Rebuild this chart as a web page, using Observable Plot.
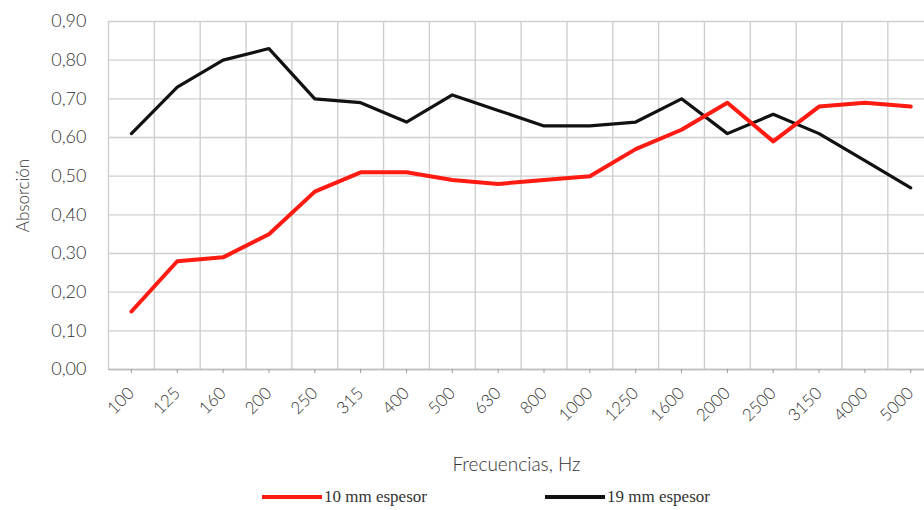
<!DOCTYPE html>
<html>
<head>
<meta charset="utf-8">
<script src="https://cdn.jsdelivr.net/npm/d3@7"></script>
<script src="https://cdn.jsdelivr.net/npm/@observablehq/plot@0.6"></script>
<style>
  body { margin: 0; background: #fff; }
  #wrap { position: relative; width: 924px; height: 510px; overflow: hidden; }
  #legend { position: absolute; left: 0; top: 484px; width: 924px; height: 26px; font-family: "Liberation Serif", serif; font-size: 17px; color: #333; }
  .item { position: absolute; top: 3px; display: flex; align-items: center; }
  .sw { display: inline-block; width: 60px; height: 4px; margin-right: 2px; }
  svg text { font-weight: 300; }
</style>
</head>
<body>
<div id="wrap">
  <div id="chart"></div>
  <div id="legend"></div>
</div>
<script>
const freqs = ["100","125","160","200","250","315","400","500","630","800","1000","1250","1600","2000","2500","3150","4000","5000"];
const esp10 = [0.15,0.28,0.29,0.35,0.46,0.51,0.51,0.49,0.48,0.49,0.50,0.57,0.62,0.69,0.59,0.68,0.69,0.68];
const esp19 = [0.61,0.73,0.80,0.83,0.70,0.69,0.64,0.71,0.67,0.63,0.63,0.64,0.70,0.61,0.66,0.61,0.54,0.47];
const yTicks = [0,0.1,0.2,0.3,0.4,0.5,0.6,0.7,0.8,0.9];
const seriesNames = ["10 mm espesor", "19 mm espesor"];
const seriesColors = ["#ff1a12", "#111111"];

const idx = d3.range(freqs.length);
const rows10 = idx.map(i => ({i, v: esp10[i]}));
const rows19 = idx.map(i => ({i, v: esp19[i]}));
const fmt = v => d3.format(".2f")(v).replace(".", ",");

const font = "Lato";
const chart = Plot.plot({
  width: 924,
  height: 478,
  marginLeft: 108,
  marginRight: 0,
  marginTop: 21,
  marginBottom: 109,
  style: { fontFamily: font, fontSize: "17px", color: "#333", background: "#fff" },
  x: { domain: [-0.5, 17.3] },
  y: { domain: [0, 0.9] },
  marks: [
    Plot.gridY(yTicks, { stroke: "#cfcfcf", strokeOpacity: 1, strokeWidth: 1.4 }),
    Plot.ruleX(idx.map(i => i - 0.5), { y1: 0, y2: 0.9, stroke: "#cfcfcf", strokeWidth: 1.4 }),
    Plot.ruleY([0], { stroke: "#bdbdbd", strokeWidth: 1.4 }),
    Plot.axisY(yTicks, { tickFormat: fmt, tickSize: 0, tickPadding: 22, fontSize: 18, fill: "#333", label: null }),
    Plot.axisY({ ticks: [], label: "Absorción", labelAnchor: "center", labelOffset: 92, labelArrow: "none", fontSize: 17, fill: "#333", tickSize: 0 }),
    Plot.axisX(idx, { tickFormat: i => freqs[i], tickRotate: -45, tickSize: 4, tickPadding: 17, stroke: "#999", fill: "#333", fontSize: 17, label: null }),
    Plot.axisX({ ticks: [], label: "Frecuencias, Hz", labelAnchor: "center", labelOffset: 101, labelArrow: "none", fontSize: 19, fill: "#333", tickSize: 0 }),
    Plot.line(rows19, { x: "i", y: "v", stroke: seriesColors[1], strokeWidth: 3.2 }),
    Plot.line(rows10, { x: "i", y: "v", stroke: seriesColors[0], strokeWidth: 4 })
  ]
});
document.getElementById("chart").appendChild(chart);

const legend = document.getElementById("legend");
const lefts = [262, 545];
seriesNames.forEach((name, k) => {
  const it = document.createElement("div");
  it.className = "item";
  it.style.left = lefts[k] + "px";
  const sw = document.createElement("span");
  sw.className = "sw";
  sw.style.background = seriesColors[k];
  const tx = document.createElement("span");
  tx.textContent = name;
  it.appendChild(sw);
  it.appendChild(tx);
  legend.appendChild(it);
});
</script>
</body>
</html>
